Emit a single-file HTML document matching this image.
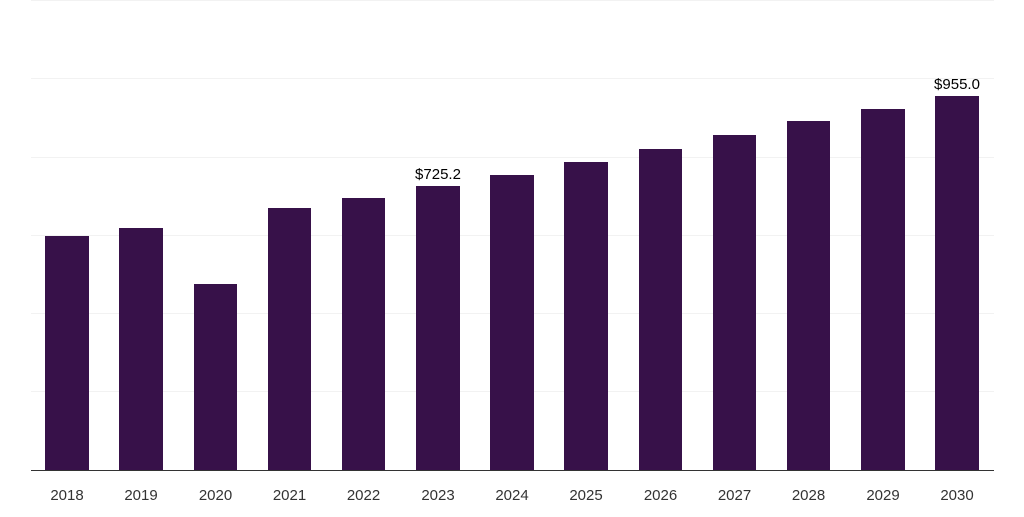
<!DOCTYPE html>
<html><head><style>
body{margin:0;background:#fff;font-family:"Liberation Sans",sans-serif;}
</style></head><body>
<svg width="1024" height="512" xmlns="http://www.w3.org/2000/svg" font-family="Liberation Sans, sans-serif">
<g stroke="#f2f2f2" stroke-width="1">
<line x1="31" x2="994" y1="0.5" y2="0.5"/>
<line x1="31" x2="994" y1="78.5" y2="78.5"/>
<line x1="31" x2="994" y1="157.5" y2="157.5"/>
<line x1="31" x2="994" y1="235.5" y2="235.5"/>
<line x1="31" x2="994" y1="313.5" y2="313.5"/>
<line x1="31" x2="994" y1="391.5" y2="391.5"/>
</g>
<g fill="#371149">
<rect x="45" y="236" width="44" height="234"/>
<rect x="119" y="228" width="44" height="242"/>
<rect x="194" y="284" width="43" height="186"/>
<rect x="268" y="208" width="43" height="262"/>
<rect x="342" y="198" width="43" height="272"/>
<rect x="416" y="186" width="44" height="284"/>
<rect x="490" y="175" width="44" height="295"/>
<rect x="564" y="162" width="44" height="308"/>
<rect x="639" y="149" width="43" height="321"/>
<rect x="713" y="135" width="43" height="335"/>
<rect x="787" y="121" width="43" height="349"/>
<rect x="861" y="109" width="44" height="361"/>
<rect x="935" y="96" width="44" height="374"/>
</g>
<line x1="31" x2="994" y1="470.5" y2="470.5" stroke="#333" stroke-width="1"/>
<g font-size="15" fill="#333" text-anchor="middle">
<text x="67" y="500">2018</text><text x="141" y="500">2019</text><text x="215.5" y="500">2020</text>
<text x="289.5" y="500">2021</text><text x="363.5" y="500">2022</text><text x="438" y="500">2023</text>
<text x="512" y="500">2024</text><text x="586" y="500">2025</text><text x="660.5" y="500">2026</text>
<text x="734.5" y="500">2027</text><text x="808.5" y="500">2028</text><text x="883" y="500">2029</text>
<text x="957" y="500">2030</text>
</g>
<g font-size="15" fill="#000" text-anchor="middle">
<text x="438" y="179">$725.2</text>
<text x="957" y="89">$955.0</text>
</g>
</svg>
</body></html>
